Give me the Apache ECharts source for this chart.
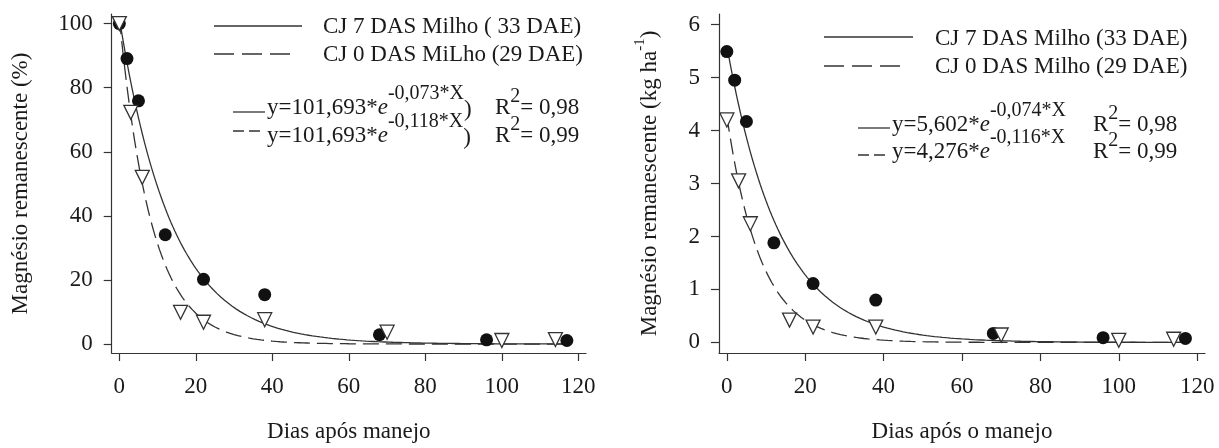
<!DOCTYPE html>
<html>
<head>
<meta charset="utf-8">
<script src="https://cdn.jsdelivr.net/npm/echarts@6/dist/echarts.min.js"></script>
<style>
  html, body { margin: 0; padding: 0; background: #fff; }
  #chart { width: 1219px; height: 448px; }
</style>
</head>
<body>
<div id="chart"></div>
<script>
// Sampling days (days after cover-crop management)
const daysCJ7 = [0, 2, 5, 12, 22, 38, 68, 96, 117];
const daysCJ0 = [0, 3, 6, 16, 22, 38, 70, 100, 114];

// Remaining magnesium, percent of initial
const pctCJ7 = [100, 89.1, 75.9, 34.1, 20.2, 15.4, 2.9, 1.3, 1.1];
const pctCJ0 = [100, 72.3, 52.0, 9.9, 6.8, 7.6, 3.7, 1.1, 1.4];

// Remaining magnesium, kg ha-1
const kgCJ7 = [5.49, 4.95, 4.17, 1.88, 1.11, 0.80, 0.17, 0.09, 0.075];
const kgCJ0 = [4.20, 3.05, 2.24, 0.42, 0.29, 0.29, 0.14, 0.04, 0.06];

// Exponential decay fits y = a * e^(-b*x): [CJ 7, CJ 0]
const pctFitA = [101.693, 101.693];
const pctFitB = [0.073, 0.118];
const kgFitA = [5.602, 4.276];
const kgFitB = [0.074, 0.116];

// Axis ticks
const xTicks = [0, 20, 40, 60, 80, 100, 120];
const pctTicks = [0, 20, 40, 60, 80, 100];
const kgTicks = [0, 1, 2, 3, 4, 5, 6];

const FONT = '"Liberation Serif", "Times New Roman", serif';
const INK = '#1a1a1a';
const LINE = '#333';

function pairs(xs, ys) { return xs.map((x, i) => [x, ys[i]]); }
function fitCurve(a, b) {
  const pts = [];
  for (let x = 0; x <= 118; x += 0.5) pts.push([x, a * Math.exp(-b * x)]);
  return pts;
}
function fmt(v) { return String(v).replace('.', ','); }

const chart = echarts.init(document.getElementById('chart'), null, { renderer: 'canvas' });

function xAxis(gridIndex, name) {
  return {
    type: 'value', gridIndex, min: -2, max: 122,
    name, nameLocation: 'middle', nameGap: 67,
    nameTextStyle: { fontFamily: FONT, fontSize: 23, color: INK },
    axisLine: { show: true, onZero: false, lineStyle: { color: LINE, width: 1.2 } },
    axisTick: { show: true, length: 8, customValues: xTicks, lineStyle: { color: LINE, width: 1.2 } },
    axisLabel: { customValues: xTicks, fontFamily: FONT, fontSize: 23, color: INK, margin: 22 },
    splitLine: { show: false }
  };
}
function yAxis(gridIndex, min, max, ticks, name, gap, rich) {
  return {
    type: 'value', gridIndex, min, max,
    name, nameLocation: 'middle', nameGap: gap,
    nameTextStyle: Object.assign({ fontFamily: FONT, fontSize: 23, color: INK }, rich ? { rich } : {}),
    axisLine: { show: true, onZero: false, lineStyle: { color: LINE, width: 1.2 } },
    axisTick: { show: true, length: 8, customValues: ticks, lineStyle: { color: LINE, width: 1.2 } },
    axisLabel: { customValues: ticks, fontFamily: FONT, fontSize: 23, color: INK, margin: 19 },
    splitLine: { show: false }
  };
}

function circles(xi, data) {
  return { type: 'scatter', xAxisIndex: xi, yAxisIndex: xi, data, symbol: 'circle', symbolSize: 13,
    itemStyle: { color: '#111', opacity: 1 }, z: 4 };
}
function triangles(xi, data) {
  return { type: 'scatter', xAxisIndex: xi, yAxisIndex: xi, data, symbol: 'triangle', symbolRotate: 180,
    symbolSize: 14, itemStyle: { color: '#fff', borderColor: LINE, borderWidth: 1.3, opacity: 1 }, z: 5 };
}
function curve(xi, data, dashed) {
  return { type: 'line', xAxisIndex: xi, yAxisIndex: xi, data, showSymbol: false, symbol: 'none',
    lineStyle: { color: LINE, width: 1.3, type: dashed ? [16, 7] : 'solid' }, z: 3, silent: true };
}

// Text measuring for equation runs
const measureCtx = document.createElement('canvas').getContext('2d');
function tw(str, size, italic) {
  measureCtx.font = (italic ? 'italic ' : '') + size + 'px ' + FONT;
  return measureCtx.measureText(str).width;
}
function textEl(x, y, text, size, italic) {
  return { type: 'text', x, y, silent: true,
    style: { text, fontFamily: FONT, fontSize: size, fontStyle: italic ? 'italic' : 'normal',
      fill: INK, align: 'left', verticalAlign: 'middle' } };
}
function lineEl(x1, x2, y, dash) {
  return { type: 'line', silent: true, shape: { x1, y1: y, x2, y2: y },
    style: { stroke: LINE, lineWidth: 1.3, lineDash: dash || null } };
}
// Equation: main text, italic e, raised exponent, optional bracket, then R² at rX
function equation(x, y, a, b, bracket, rX, r2) {
  const coef = fmt(a.toFixed(3));
  const expo = '-' + fmt(b.toFixed(3)) + '*X';
  const els = [];
  let cx = x;
  els.push(textEl(cx, y, 'y=' + coef + '*', 23)); cx += tw('y=' + coef + '*', 23);
  els.push(textEl(cx, y, 'e', 23, true)); cx += tw('e', 23, true);
  els.push(textEl(cx, y - 14, expo, 20)); cx += tw(expo, 20);
  if (bracket) els.push(textEl(cx, y + 2, ')', 23));
  let rx = rX;
  els.push(textEl(rx, y, 'R', 23)); rx += tw('R', 23);
  els.push(textEl(rx, y - 11, '2', 20)); rx += tw('2', 20);
  els.push(textEl(rx, y, '= ' + fmt(r2.toFixed(2)), 23));
  return els;
}

const pctR2 = [0.98, 0.99];
const kgR2 = [0.98, 0.99];

const graphics = [].concat(
  // left panel legend
  [lineEl(214, 302, 26), textEl(323, 27, 'CJ 7 DAS Milho ( 33 DAE)', 23),
   lineEl(214, 293, 54, [20, 8]), textEl(323, 55, 'CJ 0 DAS MiLho (29 DAE)', 23),
   lineEl(233, 265, 112), lineEl(233, 265, 131, [11, 5])],
  equation(267, 108, pctFitA[0], pctFitB[0], true, 495, pctR2[0]),
  equation(267, 136, pctFitA[1], pctFitB[1], true, 495, pctR2[1]),
  // right panel legend
  [lineEl(824, 913, 37), textEl(935, 39, 'CJ 7 DAS Milho (33 DAE)', 23),
   lineEl(824, 905, 66, [20, 8]), textEl(935, 67, 'CJ 0 DAS Milho (29 DAE)', 23),
   lineEl(858, 890, 128), lineEl(858, 890, 155, [11, 5])],
  equation(892, 125, kgFitA[0], kgFitB[0], false, 1093, kgR2[0]),
  equation(892, 152, kgFitA[1], kgFitB[1], false, 1093, kgR2[1])
);

const option = {
  backgroundColor: '#fff',
  animation: false,
  grid: [
    { left: 111.7, top: 14, width: 474.3, height: 340.3 },
    { left: 719, top: 14, width: 486, height: 340.3 }
  ],
  xAxis: [xAxis(0, 'Dias após manejo'), xAxis(1, 'Dias após o manejo')],
  yAxis: [
    yAxis(0, -2.8, 103, pctTicks, 'Magnésio remanescente (%)', 79),
    yAxis(1, -0.2, 6.2, kgTicks, '{a|Magnésio remanescente (kg ha}{s|-1}{a|)}', 58, {
      a: { fontFamily: FONT, fontSize: 23, color: INK, lineHeight: 28, verticalAlign: 'bottom' },
      s: { fontFamily: FONT, fontSize: 15, color: INK, lineHeight: 15, verticalAlign: 'top' }
    })
  ],
  series: [
    curve(0, fitCurve(pctFitA[0], pctFitB[0]), false),
    curve(0, fitCurve(pctFitA[1], pctFitB[1]), true),
    circles(0, pairs(daysCJ7, pctCJ7)),
    triangles(0, pairs(daysCJ0, pctCJ0)),
    curve(1, fitCurve(kgFitA[0], kgFitB[0]), false),
    curve(1, fitCurve(kgFitA[1], kgFitB[1]), true),
    circles(1, pairs(daysCJ7, kgCJ7)),
    triangles(1, pairs(daysCJ0, kgCJ0))
  ],
  graphic: graphics
};
chart.setOption(option);
</script>
</body>
</html>
